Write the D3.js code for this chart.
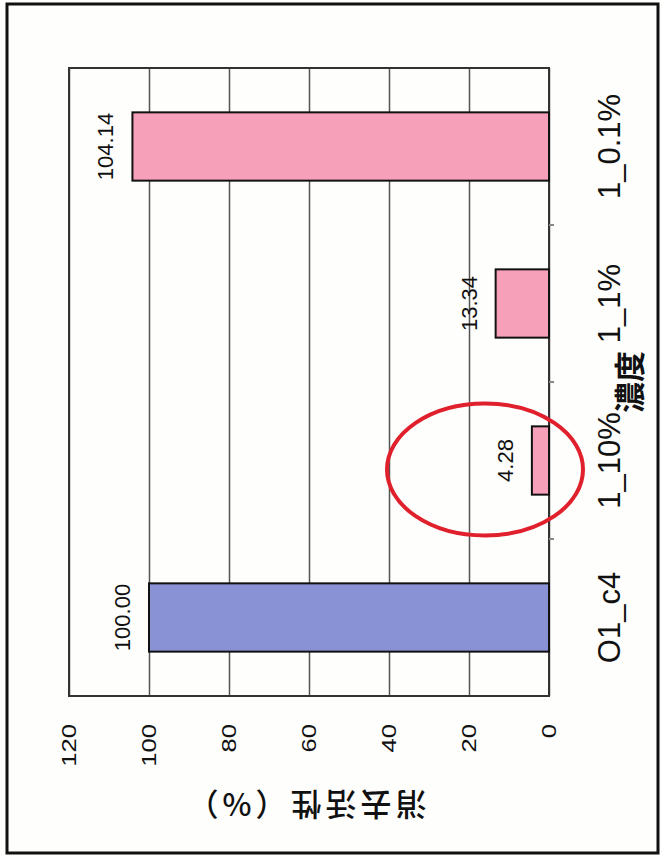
<!DOCTYPE html>
<html><head><meta charset="utf-8">
<script src="https://cdn.jsdelivr.net/npm/d3@7"></script>
<style>
html,body{margin:0;padding:0;background:#fff;}
svg{display:block;}
</style></head>
<body>
<svg id="c" width="662" height="857"></svg>
<script>
// ---- data ----
const categories = ["O1_c4", "1_10%", "1_1%", "1_0.1%"];
const values = [100.00, 4.28, 13.34, 104.14];
const valueLabels = ["100.00", "4.28", "13.34", "104.14"];
const groups = ["control", "sample", "sample", "sample"];
const tickValues = [0, 20, 40, 60, 80, 100, 120];
const tickLabels = ["0", "20", "40", "60", "80", "100", "120"];
const valueTitle = "消去活性（%）";
const categoryTitle = "濃度";
const highlighted = "1_10%";

// ---- layout ----
const svg = d3.select("#c");
const plot = {left: 69, right: 549, top: 68, bottom: 696};
const latin = "'Liberation Sans', Arial, sans-serif";
const cjk = "'Noto Sans CJK JP', 'Noto Sans CJK SC', sans-serif";

svg.append("rect").attr("x",0).attr("y",0).attr("width",662).attr("height",857).attr("fill","#fefefc");
svg.append("rect").attr("x",7).attr("y",4).attr("width",651).attr("height",849)
  .attr("fill","none").attr("stroke","#111").attr("stroke-width",3);

const x = d3.scaleLinear().domain([0,120]).range([plot.right, plot.left]);
const y = d3.scaleBand().domain(categories.slice().reverse())
  .range([plot.top, plot.bottom]).paddingInner(0.565).paddingOuter(0.2825);
const color = d3.scaleOrdinal().domain(["control","sample"]).range(["#8a92d6","#f6a0ba"]);

// grid
const grid = svg.append("g").attr("transform",`translate(0,${plot.bottom})`)
  .call(d3.axisBottom(x).tickValues(tickValues).tickSize(-(plot.bottom-plot.top)).tickFormat(""));
grid.select(".domain").remove();
grid.selectAll(".tick line").attr("stroke","#555").attr("stroke-width",1.5);

// plot border
svg.append("rect").attr("x",plot.left).attr("y",plot.top)
  .attr("width",plot.right-plot.left).attr("height",plot.bottom-plot.top)
  .attr("fill","none").attr("stroke","#333").attr("stroke-width",2);

// category ticks (band boundaries)
const step = y.step();
const bounds = d3.range(1, categories.length).map(i => plot.top + i*step);
svg.append("g").selectAll("line").data(bounds).join("line")
  .attr("x1",plot.right).attr("x2",plot.right+5)
  .attr("y1",d=>d).attr("y2",d=>d).attr("stroke","#888").attr("stroke-width",2);

// value tick labels
svg.append("g").selectAll("text").data(tickValues).join("text")
  .attr("transform",d=>`translate(${x(d)},724) rotate(-90) scale(1.28,1)`)
  .attr("text-anchor","end").attr("dominant-baseline","central")
  .attr("font-family",latin).attr("font-size",20).attr("fill","#111")
  .text((d,i)=>tickLabels[i]);

// bars
const data = categories.map((c,i)=>({c, v: values[i], label: valueLabels[i], g: groups[i]}));
svg.append("g").selectAll("rect").data(data).join("rect")
  .attr("x",d=>x(d.v)).attr("y",d=>y(d.c))
  .attr("width",d=>x(0)-x(d.v)).attr("height",y.bandwidth())
  .attr("fill",d=>color(d.g)).attr("stroke","#111").attr("stroke-width",2);

// data labels
svg.append("g").selectAll("text").data(data).join("text")
  .attr("transform",d=>`translate(${x(d.v)-19},${y(d.c)+y.bandwidth()/2}) rotate(-90)`)
  .attr("text-anchor","middle")
  .attr("font-family",latin).attr("font-size",22).attr("fill","#111")
  .text(d=>d.label);

// category labels
svg.append("g").selectAll("text").data(categories).join("text")
  .attr("transform",d=>`translate(620,${y(d)+y.bandwidth()/2}) rotate(-90)`)
  .attr("text-anchor","middle")
  .attr("font-family",latin).attr("font-size",31).attr("fill","#111")
  .text(d=>d);

// category title
svg.append("text")
  .attr("transform",`translate(641,${plot.top+2*step}) rotate(-90)`)
  .attr("text-anchor","middle")
  .attr("font-family",cjk).attr("font-weight",700).attr("font-size",31).attr("fill","#111")
  .text(categoryTitle);

// value title (upside down)
svg.append("text")
  .attr("transform",`translate(${(x(0)+x(120))/2 - 4},806) rotate(180)`)
  .attr("text-anchor","middle").attr("dominant-baseline","central")
  .attr("font-family",cjk).attr("font-weight",500).attr("font-size",31).attr("letter-spacing",4).attr("fill","#111")
  .text(valueTitle);

// highlight ellipse
svg.append("ellipse")
  .attr("cx",x(16)).attr("cy",y(highlighted)+y.bandwidth()/2+9)
  .attr("rx",98).attr("ry",66)
  .attr("fill","none").attr("stroke","#e0202c").attr("stroke-width",4);
</script>
</body></html>
